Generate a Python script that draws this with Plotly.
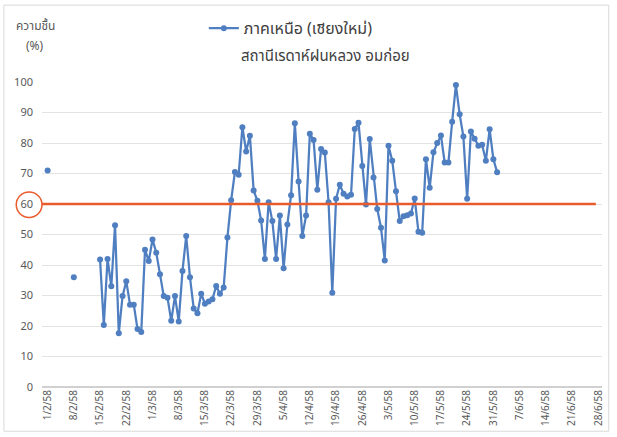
import pandas as pd
import plotly.graph_objects as go

start_date = "2015-02-01"
# daily relative humidity (%), 1/2/58 .. 1/6/58 ; None = no data
humidity = [
    71, None, None, None, None, None, None, 36, None, None, None, None, None, None,
    41.8, 20.3, 42, 33, 53, 17.6, 29.8, 34.7, 27, 27, 19, 18, 45, 41.3, 48.4, 44,
    37, 29.8, 29.3, 21.7, 29.8, 21.5, 38, 49.5, 36, 25.7, 24.2, 30.6, 27.3, 28,
    28.8, 33.1, 30.6, 32.6, 49, 61.2, 70.5, 69.6, 85.2, 77.2, 82.4, 64.4, 61.1,
    54.6, 42, 60.6, 54.4, 42, 56.2, 38.9, 53.3, 62.9, 86.5, 67.4, 49.5, 56.2, 83,
    81, 64.7, 78, 76.9, 60.6, 30.9, 61.7, 66.3, 63.4, 62.5, 63, 84.6, 86.6, 72.5,
    59.8, 81.3, 68.7, 58.4, 52.2, 41.5, 79.1, 74.2, 64.2, 54.4, 56, 56.3, 56.9,
    61.8, 50.9, 50.6, 74.7, 65.3, 77, 80, 82.5, 73.6, 73.6, 87, 99, 89.4, 82.1,
    61.7, 83.8, 81.4, 79.1, 79.4, 74.2, 84.5, 74.7, 70.4,
]
dates = pd.date_range(start_date, periods=len(humidity), freq="D")

tick_dates = pd.date_range("2015-02-01", "2015-06-28", freq="7D")
tick_labels = ["1/2/58", "8/2/58", "15/2/58", "22/2/58", "1/3/58", "8/3/58",
               "15/3/58", "22/3/58", "29/3/58", "5/4/58", "12/4/58", "19/4/58",
               "26/4/58", "3/5/58", "10/5/58", "17/5/58", "24/5/58", "31/5/58",
               "7/6/58", "14/6/58", "21/6/58", "28/6/58"]
y_ticks = [0, 10, 20, 30, 40, 50, 60, 70, 80, 90, 100]
threshold = 60

series_name = "ภาคเหนือ (เชียงใหม่)"
subtitle = "สถานีเรดาห์ฝนหลวง อมก่อย"
y_title_1 = "ความชื้น"
y_title_2 = "(%)"

FONT = "Tahoma, Noto Sans Thai, DejaVu Sans, Noto Sans, sans-serif"
BLUE = "#4F7FC0"
RED = "#EA5B2C"

fig = go.Figure()
fig.add_trace(go.Scatter(
    x=dates, y=humidity, mode="lines+markers", name=series_name,
    connectgaps=False,
    line=dict(color=BLUE, width=2.25),
    marker=dict(color=BLUE, size=6),
))

# threshold line and highlight circle
fig.add_shape(type="line", xref="paper", yref="y", x0=0, x1=0.989,
              y0=threshold, y1=threshold, line=dict(color=RED, width=2.5))
fig.add_shape(type="circle", xref="paper", yref="y", x0=-0.046, x1=0.0,
              y0=55.6, y1=63.9, line=dict(color=RED, width=1.5))
# outer frame
fig.add_shape(type="rect", xref="paper", yref="paper", x0=-0.068, x1=1.012,
              y0=-0.145, y1=1.252, line=dict(color="#D9D9D9", width=1))

fig.add_annotation(text=subtitle, xref="paper", yref="paper", x=0.507, y=1.085,
                   showarrow=False, xanchor="center", yanchor="middle",
                   font=dict(size=15, color="#404040", family=FONT))
fig.add_annotation(text=y_title_1, xref="paper", yref="paper", x=-0.0124, y=1.183,
                   showarrow=False, xanchor="center", yanchor="middle",
                   font=dict(size=12, color="#595959", family=FONT))
fig.add_annotation(text=y_title_2, xref="paper", yref="paper", x=-0.0124, y=1.118,
                   showarrow=False, xanchor="center", yanchor="middle",
                   font=dict(size=12, color="#595959", family=FONT))

fig.update_layout(
    width=617, height=437,
    margin=dict(l=42, r=11, t=82, b=49),
    paper_bgcolor="white", plot_bgcolor="white",
    font=dict(family=FONT, color="#595959"),
    showlegend=True,
    legend=dict(orientation="h", x=0.289, y=1.176, xanchor="left", yanchor="middle",
                font=dict(size=16, color="#404040"), bgcolor="rgba(0,0,0,0)",
                itemwidth=30),
    xaxis=dict(
        range=[pd.Timestamp("2015-01-30 12:00"), pd.Timestamp("2015-06-29 00:00")],
        tickmode="array", tickvals=tick_dates, ticktext=tick_labels,
        tickangle=-90, tickfont=dict(size=10, color="#595959"),
        showgrid=False, showline=False, zeroline=False, ticks="",
    ),
    yaxis=dict(
        range=[0, 100], tickmode="array", tickvals=y_ticks,
        tickfont=dict(size=11, color="#595959"),
        showgrid=True, gridcolor="#E3E3E3", gridwidth=1,
        zeroline=True, zerolinecolor="#D0D0D0", showline=False, ticks="",
        ticklabelstandoff=8,
    ),
)

fig.write_html(
    "out.html",
    config={"displayModeBar": False},
    post_script="document.documentElement.style.margin='0';"
                "document.body.style.margin='0';"
                "document.body.style.overflow='hidden';",
)
